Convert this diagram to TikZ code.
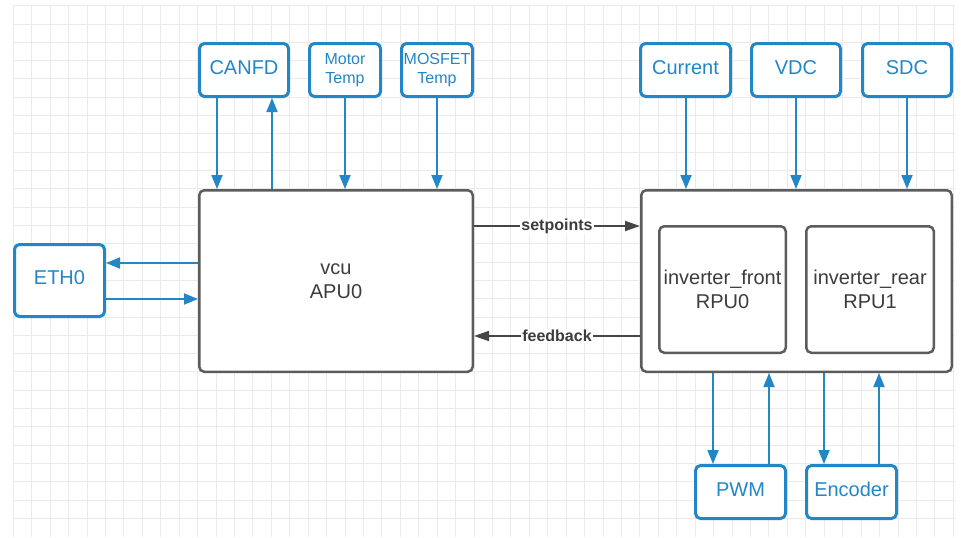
\documentclass[tikz,border=0pt]{standalone}
\usepackage{fontspec}
\setmainfont{Liberation Sans}
\usetikzlibrary{arrows.meta}
\definecolor{linkblue}{RGB}{34,134,199}
\definecolor{boxgrey}{RGB}{92,92,92}
\definecolor{labelgrey}{RGB}{60,60,60}
\definecolor{flowgrey}{RGB}{70,70,70}
\definecolor{gridgrey}{RGB}{234,234,234}

\begin{document}
\begin{tikzpicture}[x=1pt,y=-1pt,
  bluebox/.style={draw=linkblue, line width=3pt, rounded corners=5pt, text=linkblue,
    fill=white, inner sep=0pt, align=center, font=\fontsize{20}{24}\selectfont,
    minimum width=89pt, minimum height=53pt},
  oneline/.style={bluebox, text height=14.5pt, text depth=6pt},
  smallblue/.style={bluebox, minimum width=71pt, font=\fontsize{16}{19}\selectfont},
  greybox/.style={draw=boxgrey, line width=2.5pt, rounded corners=5pt, fill=white,
    text=labelgrey, align=center, inner sep=0pt, font=\fontsize{20}{23.5}\selectfont},
  bluearrow/.style={draw=linkblue, line width=1.8pt, -{Triangle[length=14pt,width=11pt]}},
  darkarrow/.style={draw=flowgrey, line width=1.8pt, -{Triangle[length=15pt,width=10pt]}},
  flowlabel/.style={fill=white, text=labelgrey, inner sep=1pt,
    font=\bfseries\fontsize{16}{19}\selectfont}
]
\useasboundingbox[fill=white] (0,0) rectangle (961,538);

% background grid
\foreach \i in {0,...,51}
  \draw[gridgrey, line width=0.9pt] ({13.3+18.43*\i},6) -- ({13.3+18.43*\i},537);
\foreach \j in {0,...,28}
  \draw[gridgrey, line width=0.9pt] (13,{5.7+18.31*\j}) -- (955,{5.7+18.31*\j});

% sensor / bus inputs on top
\node[oneline]   (canfd)   at (244,70)   {CANFD};
\node[smallblue] (motor)   at (345,70)   {Motor\\Temp};
\node[smallblue] (mosfet)  at (437,70)   {MOSFET\\Temp};
\node[oneline, minimum width=90pt] (current) at (685.5,70) {Current};
\node[oneline]   (vdc)     at (796,70)   {VDC};
\node[oneline]   (sdc)     at (907,70)   {SDC};

% ethernet
\node[oneline, minimum width=90pt, minimum height=72pt] (eth) at (59.5,280.5) {ETH0};

% application processor
\node[greybox, minimum width=273.5pt, minimum height=181.5pt] (vcu) at (336,281) {vcu\\APU0};

% real-time processors
\node[greybox, minimum width=310.5pt, minimum height=181.5pt] (inv) at (796.5,281) {};
\node[greybox, minimum width=126.5pt, minimum height=126.5pt] (front) at (722.5,289.5) {inverter\_front\\RPU0};
\node[greybox, minimum width=127.5pt, minimum height=126.5pt] (rear)  at (870,289.5)   {inverter\_rear\\RPU1};

% motor interfaces
\node[oneline, minimum width=90pt] (pwm) at (740.5,492) {PWM};
\node[oneline, minimum width=90pt] (enc) at (851.5,492) {Encoder};

% connector anchors
\coordinate (canIn)  at ([xshift=-27pt]canfd.south);
\coordinate (canOut) at ([xshift=28pt]canfd.south);
\coordinate (ethOut) at ([yshift=18pt]vcu.west);
\coordinate (ethIn)  at ([yshift=-18pt]vcu.west);
\coordinate (spA)    at ([yshift=55pt]vcu.east);
\coordinate (fbA)    at ([yshift=-55pt]vcu.east);
\coordinate (pwmIn)  at ([xshift=-27.5pt]pwm.north);
\coordinate (pwmOut) at ([xshift=28.5pt]pwm.north);
\coordinate (encIn)  at ([xshift=-27.5pt]enc.north);
\coordinate (encOut) at ([xshift=27.5pt]enc.north);

% top connectors
\draw[bluearrow] (canIn) -- (canIn |- vcu.north);
\draw[bluearrow] (canOut |- vcu.north) -- (canOut);
\draw[bluearrow] (motor.south) -- (motor.south |- vcu.north);
\draw[bluearrow] (mosfet.south) -- (mosfet.south |- vcu.north);
\draw[bluearrow] ([xshift=0.5pt]current.south) -- ([xshift=0.5pt]current.south |- inv.north);
\draw[bluearrow] (vdc.south) -- (vdc.south |- inv.north);
\draw[bluearrow] (sdc.south) -- (sdc.south |- inv.north);

% ethernet connectors
\draw[bluearrow] (ethOut) -- (ethOut -| eth.east);
\draw[bluearrow] (ethIn -| eth.east) -- (ethIn);

% processor-to-processor links
\draw[darkarrow] (spA) -- (spA -| inv.west) node[midway, flowlabel] {setpoints};
\draw[darkarrow] (fbA -| inv.west) -- (fbA) node[midway, flowlabel] {feedback};

% bottom connectors
\draw[bluearrow] (pwmIn |- inv.south) -- (pwmIn);
\draw[bluearrow] (pwmOut) -- (pwmOut |- inv.south);
\draw[bluearrow] (encIn |- inv.south) -- (encIn);
\draw[bluearrow] (encOut) -- (encOut |- inv.south);
\end{tikzpicture}
\end{document}
